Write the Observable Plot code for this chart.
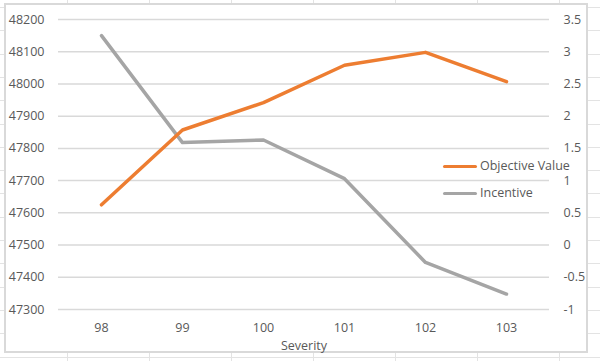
<!DOCTYPE html>
<html>
<head>
<meta charset="utf-8">
<script src="https://cdn.jsdelivr.net/npm/d3@7"></script>
<script src="https://cdn.jsdelivr.net/npm/@observablehq/plot@0.6"></script>
<style>
  html, body { margin: 0; padding: 0; }
  body {
    width: 600px; height: 361px; position: relative; overflow: hidden;
    background-color: #fff;
    background-image:
      repeating-linear-gradient(to right, transparent 0, transparent 67px, #e3e3e3 67px, #e3e3e3 68px, transparent 68px, transparent 82px),
      repeating-linear-gradient(to bottom, transparent 0, transparent 7px, #e3e3e3 7px, #e3e3e3 8px, transparent 8px, transparent 23.3px);
    font-family: "Open Sans", "Noto Sans", sans-serif;
  }
  #frame {
    position: absolute; left: 4px; top: 3px; width: 580px; height: 346px;
    border: 2.5px solid #d9d9d9; background: #fff;
  }
  #chart { position: absolute; left: 0; top: 0; }
  #chart svg { background: transparent !important; }
  .leg { position: absolute; font-size: 12.5px; color: #595959; line-height: 1; }
  .leg span.sw { position: absolute; left: 0; top: 50%; width: 34px; height: 3.5px; margin-top: -1.5px; border-radius: 2px; }
  .leg span.tx { position: absolute; left: 37px; top: 50%; transform: translateY(-52%); white-space: nowrap; }
</style>
</head>
<body>
<div id="frame"></div>
<div id="chart"></div>
<div class="leg" style="left:443px; top:159px; height:14px;"><span class="sw" style="background:#ED7D31"></span><span class="tx">Objective Value</span></div>
<div class="leg" style="left:443px; top:186px; height:14px;"><span class="sw" style="background:#A5A5A5"></span><span class="tx">Incentive</span></div>
<script>
const severity = ["98", "99", "100", "101", "102", "103"];
const objectiveValue = [47625, 47857, 47942, 48058, 48098, 48007];
const incentive = [3.25, 1.59, 1.63, 1.03, -0.27, -0.76];
const leftTicks = [47300, 47400, 47500, 47600, 47700, 47800, 47900, 48000, 48100, 48200];
const rightTicks = [-1, -0.5, 0, 0.5, 1, 1.5, 2, 2.5, 3, 3.5];

// map right-axis values onto the left-axis domain
const toLeft = d3.scaleLinear().domain([-1, 3.5]).range([47300, 48200]);

const objData = severity.map((s, i) => ({s, v: objectiveValue[i]}));
const incData = severity.map((s, i) => ({s, v: toLeft(incentive[i])}));

const textColor = "#595959";
const plot = Plot.plot({
  width: 600,
  height: 361,
  marginLeft: 58,
  marginRight: 51,
  marginTop: 19,
  marginBottom: 52,
  style: {fontFamily: "'Open Sans', 'Noto Sans', sans-serif", fontSize: "12.5px", color: textColor, background: "transparent"},
  x: {type: "point", domain: severity, padding: 0.5},
  y: {domain: [47300, 48200]},
  marks: [
    Plot.gridY(leftTicks, {stroke: "#d9d9d9", strokeOpacity: 1, strokeWidth: 1.5}),
    Plot.axisY(leftTicks, {anchor: "left", tickSize: 0, tickPadding: 14, tickFormat: d => String(d), label: null, fill: textColor}),
    Plot.axisY(rightTicks.map(toLeft), {anchor: "right", tickSize: 0, tickPadding: 14, tickFormat: d => String(+toLeft.invert(d).toFixed(1)), label: null, fill: textColor}),
    Plot.axisX({anchor: "bottom", tickSize: 0, tickPadding: 14, label: "Severity", labelAnchor: "center", labelOffset: 40, fill: textColor}),
    Plot.line(incData, {x: "s", y: "v", stroke: "#A5A5A5", strokeWidth: 3.5, strokeLinecap: "round", strokeLinejoin: "round"}),
    Plot.line(objData, {x: "s", y: "v", stroke: "#ED7D31", strokeWidth: 3.5, strokeLinecap: "round", strokeLinejoin: "round"})
  ]
});
document.getElementById("chart").appendChild(plot);
</script>
</body>
</html>
